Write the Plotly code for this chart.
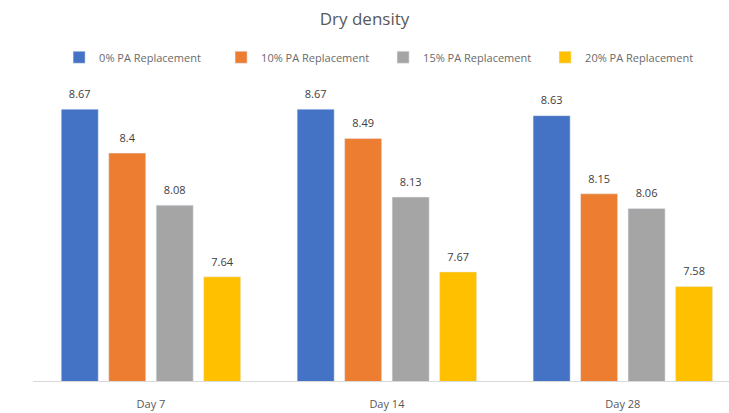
import plotly.graph_objects as go

categories = ["Day 7", "Day 14", "Day 28"]
series_names = ["0% PA Replacement", "10% PA Replacement", "15% PA Replacement", "20% PA Replacement"]
pa0 = [8.67, 8.67, 8.63]
pa10 = [8.4, 8.49, 8.15]
pa15 = [8.08, 8.13, 8.06]
pa20 = [7.64, 7.67, 7.58]
colors = ["#4472C4", "#ED7D31", "#A5A5A5", "#FFC000"]

fig = go.Figure()
for i, (name, vals, col) in enumerate(zip(series_names, [pa0, pa10, pa15, pa20], colors)):
    fig.add_trace(go.Bar(
        x=categories, y=vals, name=name, marker_color=col,
        offsetgroup=str(i), alignmentgroup="g",
    ))
for i, vals in enumerate([pa0, pa10, pa15, pa20]):
    # value labels sit on invisible markers at each bar top
    fig.add_trace(go.Scatter(
        x=categories, y=vals, mode="markers+text", showlegend=False, hoverinfo="skip",
        offsetgroup=str(i), alignmentgroup="g",
        marker=dict(size=12, opacity=0),
        text=[f"{v:g}" for v in vals], textposition="top center",
        textfont=dict(size=11, color="#404040", family="Open Sans"), cliponaxis=False,
    ))

fig.update_layout(
    width=729, height=413,
    margin=dict(l=33, r=0, t=88, b=32),
    paper_bgcolor="white", plot_bgcolor="white",
    font=dict(family="Open Sans, sans-serif", color="#595959"),
    title=dict(text="Dry density", x=0.5, xanchor="center", y=0.955, yanchor="middle",
               font=dict(size=17, color="#595959")),
    legend=dict(orientation="h", x=0.503, xanchor="center", y=1.105, yanchor="middle",
                font=dict(size=11, color="#6a6a6a"), itemwidth=30, traceorder="normal",
                entrywidth=117, entrywidthmode="pixels"),
    barmode="group", bargap=0.195, bargroupgap=0.22,
    scattermode="group", scattergap=0.195,
    xaxis=dict(range=[-0.5, 2.45], showline=True, linecolor="#D9D9D9", linewidth=1,
               ticks="", ticklabelstandoff=13,
               tickfont=dict(size=11, color="#595959"), showgrid=False),
    yaxis=dict(range=[7, 8.8], visible=False, showgrid=False),
)

fig.write_html("out.html")
